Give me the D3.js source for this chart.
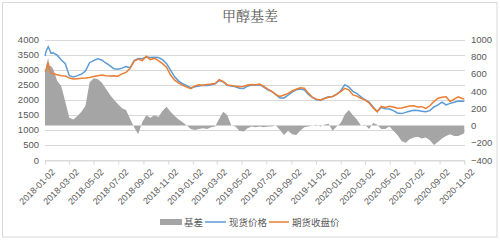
<!DOCTYPE html>
<html>
<head>
<meta charset="utf-8">
<script src="https://cdn.jsdelivr.net/npm/d3@7"></script>
<style>
body{margin:0;background:#fff;}
svg{display:block;}
</style>
</head>
<body>
<div id="chart"></div>
<script>
// 日期（约10天一个点）
var dates=["2018-01-02","2018-01-05","2018-01-10","2018-01-12","2018-01-17","2018-01-22","2018-02-01","2018-02-11","2018-02-21",
"2018-03-03","2018-03-13","2018-03-23","2018-04-02","2018-04-12","2018-04-22","2018-05-02","2018-05-12","2018-05-22",
"2018-06-01","2018-06-11","2018-06-21","2018-07-01","2018-07-11","2018-07-21","2018-07-31","2018-08-10","2018-08-20",
"2018-08-30","2018-09-09","2018-09-19","2018-09-29","2018-10-09","2018-10-19","2018-10-29","2018-11-08","2018-11-18",
"2018-11-28","2018-12-08","2018-12-18","2018-12-28","2019-01-07","2019-01-17","2019-01-27","2019-02-06","2019-02-16",
"2019-02-26","2019-03-08","2019-03-18","2019-03-28","2019-04-07","2019-04-17","2019-04-27","2019-05-07","2019-05-17",
"2019-05-27","2019-06-06","2019-06-16","2019-06-26","2019-07-06","2019-07-16","2019-07-26","2019-08-05","2019-08-15",
"2019-08-25","2019-09-04","2019-09-14","2019-09-24","2019-10-04","2019-10-14","2019-10-24","2019-11-03","2019-11-13",
"2019-11-23","2019-12-03","2019-12-13","2019-12-23","2020-01-02","2020-01-12","2020-01-22","2020-02-01","2020-02-11",
"2020-02-21","2020-03-02","2020-03-12","2020-03-22","2020-04-01","2020-04-11","2020-04-21","2020-05-01","2020-05-11",
"2020-05-21","2020-05-31","2020-06-10","2020-06-20","2020-06-30","2020-07-10","2020-07-20","2020-07-30","2020-08-09",
"2020-08-19","2020-08-29","2020-09-08","2020-09-18","2020-09-28","2020-10-08","2020-10-18","2020-10-28","2020-11-02"];

// 现货价格
var spot=[3450,3620,3760,3700,3540,3560,3480,3330,3200,
2800,2760,2800,2850,2950,3230,3300,3360,3320,
3220,3130,3030,3010,3050,3100,3060,3300,3370,
3360,3420,3400,3410,3400,3330,3200,2980,2760,
2620,2530,2470,2390,2430,2460,2480,2470,2500,
2530,2640,2600,2480,2460,2430,2380,2370,2450,
2500,2480,2500,2420,2330,2270,2170,2060,2060,
2150,2250,2330,2360,2330,2180,2080,2000,1980,
2050,2100,2110,2190,2300,2500,2420,2280,2200,
2100,2000,1920,1760,1610,1740,1700,1690,1640,
1560,1540,1580,1620,1650,1640,1620,1600,1640,
1760,1830,1920,1830,1880,1920,1960,1950,1960];

// 期货收盘价
var futures=[2930,3000,3230,3050,2880,2860,2830,2800,2790,
2720,2690,2700,2710,2720,2740,2770,2800,2820,
2800,2790,2800,2780,2860,2910,3040,3280,3350,
3300,3440,3330,3380,3300,3200,3080,2820,2650,
2550,2480,2420,2370,2460,2500,2480,2510,2520,
2540,2670,2600,2490,2470,2450,2430,2440,2490,
2510,2500,2520,2440,2350,2280,2170,2110,2160,
2210,2290,2350,2400,2380,2220,2080,2020,1990,
2040,2080,2110,2180,2270,2380,2330,2160,2120,
2050,1990,1900,1730,1600,1780,1740,1780,1760,
1720,1730,1760,1790,1800,1760,1770,1710,1800,
1940,2050,2080,2100,1940,2020,2100,2040,2020];

// 基差（右轴）
var basis=[610,700,785,700,690,660,520,460,280,
90,70,110,160,230,500,550,540,500,
430,360,300,250,200,180,80,-20,-100,
40,120,90,120,100,170,220,160,110,
70,40,0,-40,-50,-40,-30,-40,-20,
-10,80,160,120,0,-10,-60,-70,-30,
-10,-20,-10,-20,-10,-10,0,-50,-110,
-60,-100,-110,-60,-20,-10,0,10,-10,
10,20,-60,-10,30,130,180,120,70,
0,10,-40,30,10,-40,-40,-10,-60,
-110,-180,-200,-160,-140,-130,-150,-140,-170,
-225,-190,-150,-120,-100,-120,-120,-100,-90];

var leftTicks=[0,500,1000,1500,2000,2500,3000,3500,4000];
var rightTicks=[-400,-200,0,200,400,600,800,1000];
var dateTicks=["2018-01-02","2018-03-02","2018-05-02","2018-07-02","2018-09-02","2018-11-02","2019-01-02","2019-03-02",
"2019-05-02","2019-07-02","2019-09-02","2019-11-02","2020-01-02","2020-03-02","2020-05-02","2020-07-02","2020-09-02","2020-11-02"];
var legendNames=["基差","现货价格","期货收盘价"];

var W=500,H=240;
var parse=d3.timeParse("%Y-%m-%d");
var fontNum="'Liberation Sans',Arial,sans-serif";
var fontCJK="'Noto Sans CJK SC','Noto Sans',sans-serif";

var svg=d3.select("#chart").append("svg").attr("width",W).attr("height",H);

// 外框
svg.append("rect").attr("x",2.5).attr("y",2.5).attr("width",494.5).attr("height",234.5)
	.attr("fill","#fff").attr("stroke","#D9D9D9");

var x=d3.scaleTime().domain([parse("2018-01-02"),parse("2020-11-02")]).range([45,464.3]);
var yL=d3.scaleLinear().domain([0,4000]).range([160,39.5]);
var yR=d3.scaleLinear().domain([-400,1000]).range([160,39.5]);

// 标题
svg.append("text").attr("x",250).attr("y",21).attr("text-anchor","middle")
	.attr("font-family","'Noto Serif CJK SC',"+fontCJK).attr("font-size",14).attr("fill","#595959")
	.text("甲醇基差");

// 网格线
svg.append("g").selectAll("line").data(leftTicks).enter().append("line")
	.attr("x1",45).attr("x2",465).attr("y1",function(d){return Math.round(yL(d))+0.5;})
	.attr("y2",function(d){return Math.round(yL(d))+0.5;})
	.attr("stroke","#D9D9D9").attr("stroke-width",1);

// 左轴
var gL=svg.append("g").attr("transform","translate(45,0)")
	.call(d3.axisLeft(yL).tickValues(leftTicks).tickSize(0).tickPadding(6).tickFormat(d3.format("d")));
gL.select(".domain").remove();
gL.selectAll("text").attr("font-family",fontNum).attr("font-size",9.5).attr("fill","#595959");

// 右轴
var gR=svg.append("g").attr("transform","translate(465,0)")
	.call(d3.axisRight(yR).tickValues(rightTicks).tickSize(0).tickPadding(6).tickFormat(d3.format("d")));
gR.select(".domain").remove();
gR.selectAll("text").attr("font-family",fontNum).attr("font-size",9.5).attr("fill","#595959");

// 基差面积
var pts=dates.map(function(d,i){return {t:parse(d),s:spot[i],f:futures[i],b:basis[i]};});
var area=d3.area().x(function(d){return x(d.t);}).y0(yR(0)).y1(function(d){return yR(d.b);});
svg.append("path").datum(pts).attr("d",area).attr("fill","#A5A5A5");

// 横轴
var gX=svg.append("g").attr("transform","translate(0,"+(Math.round(yL(0))+0.5)+")")
	.call(d3.axisBottom(x).tickValues(dateTicks.map(parse)).tickSize(4).tickFormat(d3.timeFormat("%Y-%m-%d")));
gX.select(".domain").attr("stroke","#D9D9D9");
gX.selectAll("line").attr("stroke","#D9D9D9");
gX.selectAll("text").attr("font-family",fontNum).attr("font-size",9).attr("fill","#595959")
	.attr("text-anchor","end").attr("dy","0.35em")
	.attr("transform","translate(3,5) rotate(-45)");

// 现货、期货线
var lineS=d3.line().x(function(d){return x(d.t);}).y(function(d){return yL(d.s);});
var lineF=d3.line().x(function(d){return x(d.t);}).y(function(d){return yL(d.f);});
svg.append("path").datum(pts).attr("d",lineS).attr("fill","none").attr("stroke","#5B9BD5").attr("stroke-width",1.5);
svg.append("path").datum(pts).attr("d",lineF).attr("fill","none").attr("stroke","#ED7D31").attr("stroke-width",1.5);

// 图例
var lg=svg.append("g").attr("font-family",fontCJK).attr("font-size",9.5).attr("fill","#595959");
lg.append("rect").attr("x",160).attr("y",219).attr("width",22).attr("height",6).attr("fill","#A5A5A5");
lg.append("text").attr("x",184).attr("y",225.5).text(legendNames[0]);
lg.append("line").attr("x1",205).attr("x2",226).attr("y1",222).attr("y2",222).attr("stroke","#5B9BD5").attr("stroke-width",1.5);
lg.append("text").attr("x",229).attr("y",225.5).text(legendNames[1]);
lg.append("line").attr("x1",269).attr("x2",289).attr("y1",222).attr("y2",222).attr("stroke","#ED7D31").attr("stroke-width",1.5);
lg.append("text").attr("x",292).attr("y",225.5).text(legendNames[2]);
</script>
</body>
</html>
